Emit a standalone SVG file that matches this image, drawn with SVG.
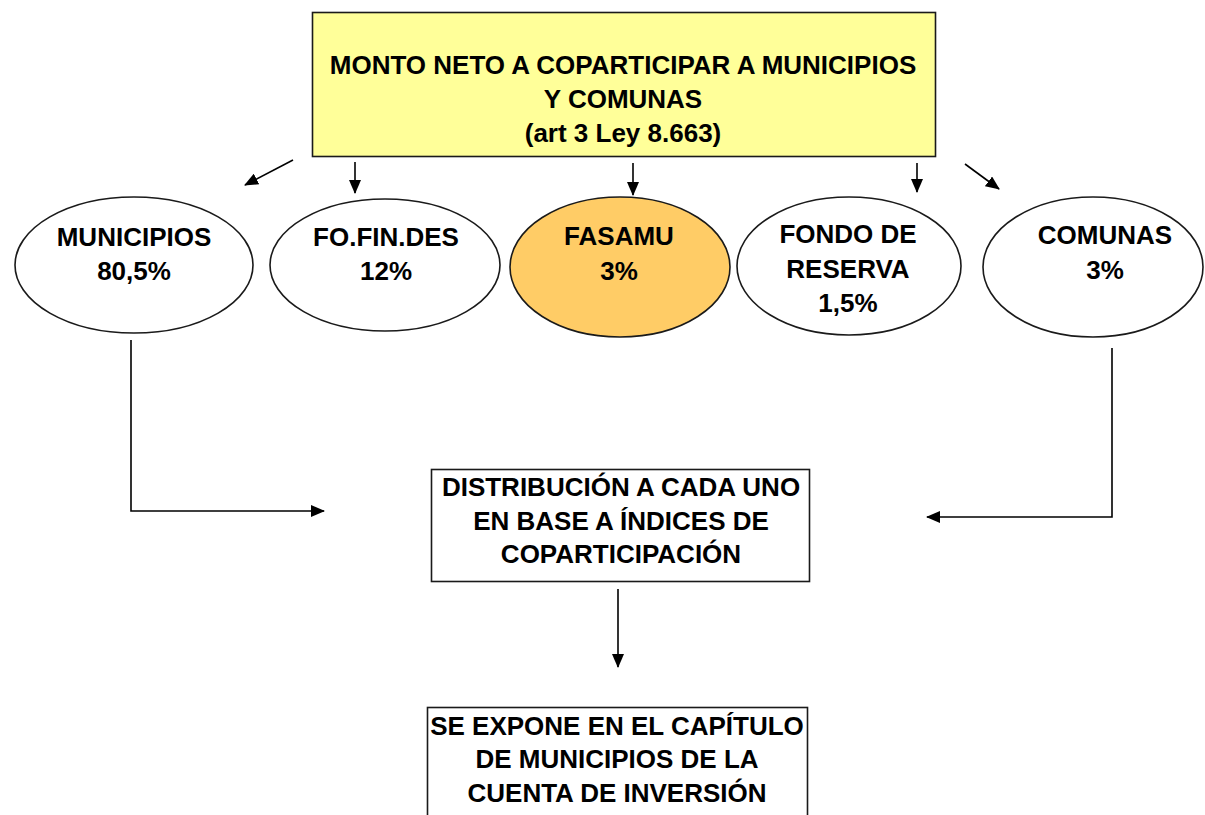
<svg xmlns="http://www.w3.org/2000/svg" width="1205" height="815" viewBox="0 0 1205 815">
<style>
.t{font-family:"Liberation Sans",Arial,sans-serif;font-weight:bold;font-size:26px;fill:#000;text-anchor:middle}
.box{stroke:#1a1a1a;stroke-width:1.6}
.ell{fill:#fff;stroke:#1a1a1a;stroke-width:1.6}
.c{fill:none;stroke:#000;stroke-width:1.6}
</style>
<defs>
<marker id="ah" viewBox="0 0 14 12" refX="13" refY="6" markerWidth="14" markerHeight="12" markerUnits="userSpaceOnUse" orient="auto">
<path d="M0,0 L14,6 L0,12 Z" fill="#000"/>
</marker>
</defs>
<rect width="1205" height="815" fill="#fff"/>
<g id="connectors">
<line class="c" x1="293" y1="160" x2="245" y2="185" marker-end="url(#ah)"/>
<line class="c" x1="355" y1="162" x2="355" y2="193" marker-end="url(#ah)"/>
<line class="c" x1="633" y1="163" x2="633" y2="195" marker-end="url(#ah)"/>
<line class="c" x1="917" y1="163" x2="917" y2="192" marker-end="url(#ah)"/>
<line class="c" x1="965" y1="164" x2="999" y2="189" marker-end="url(#ah)"/>
<polyline class="c" points="131,340 131,511 324,511" marker-end="url(#ah)"/>
<polyline class="c" points="1112,348 1112,517 927,517" marker-end="url(#ah)"/>
<line class="c" x1="618" y1="589" x2="618" y2="667" marker-end="url(#ah)"/>
</g>
<g id="monto">
<rect class="box" x="312.5" y="12.5" width="623" height="144" fill="#FFFF99"/>
<text class="t" x="623" y="74">MONTO NETO A COPARTICIPAR A MUNICIPIOS</text>
<text class="t" x="623" y="108">Y COMUNAS</text>
<text class="t" x="623" y="142">(art 3 Ley 8.663)</text>
</g>
<g id="municipios">
<ellipse class="ell" cx="134" cy="265" rx="119" ry="68"/>
<text class="t" x="134" y="246">MUNICIPIOS</text>
<text class="t" x="134" y="280">80,5%</text>
</g>
<g id="fofindes">
<ellipse class="ell" cx="385" cy="265" rx="115" ry="66"/>
<text class="t" x="386" y="246">FO.FIN.DES</text>
<text class="t" x="386" y="280">12%</text>
</g>
<g id="fasamu">
<ellipse class="ell" cx="620" cy="267" rx="110" ry="70" style="fill:#FFCC66"/>
<text class="t" x="619" y="245">FASAMU</text>
<text class="t" x="619" y="280">3%</text>
</g>
<g id="fondo">
<ellipse class="ell" cx="849" cy="266" rx="112" ry="69"/>
<text class="t" x="848" y="243">FONDO DE</text>
<text class="t" x="848" y="278">RESERVA</text>
<text class="t" x="848" y="312">1,5%</text>
</g>
<g id="comunas">
<ellipse class="ell" cx="1093" cy="267" rx="110" ry="70"/>
<text class="t" x="1105" y="244">COMUNAS</text>
<text class="t" x="1105" y="279">3%</text>
</g>
<g id="distribucion">
<rect class="box" x="431.5" y="469.5" width="378" height="112" fill="#fff"/>
<text class="t" x="621" y="496">DISTRIBUCIÓN A CADA UNO</text>
<text class="t" x="621" y="530">EN BASE A ÍNDICES DE</text>
<text class="t" x="621" y="563">COPARTICIPACIÓN</text>
</g>
<g id="expone">
<rect class="box" x="427.5" y="707.5" width="380" height="120" fill="#fff"/>
<text class="t" x="617" y="735">SE EXPONE EN EL CAPÍTULO</text>
<text class="t" x="617" y="768">DE MUNICIPIOS DE LA</text>
<text class="t" x="617" y="802">CUENTA DE INVERSIÓN</text>
</g>
</svg>
